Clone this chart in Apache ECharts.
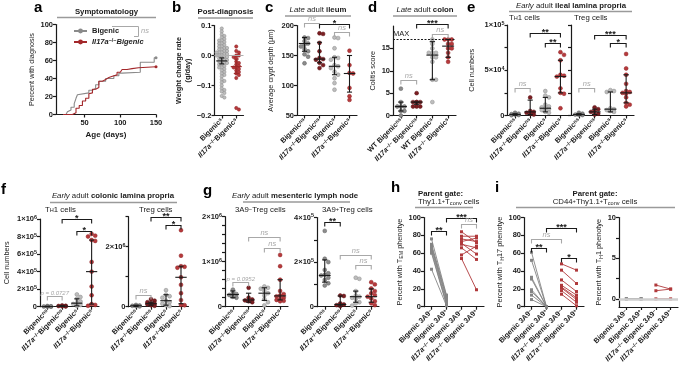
<!DOCTYPE html>
<html>
<head>
<meta charset="utf-8">
<title>Il17a and bigenic mice panels</title>
<script src="https://cdn.jsdelivr.net/npm/echarts@6/dist/echarts.min.js"></script>
<style>
  html, body { margin: 0; padding: 0; background: #fff; }
  #chart { width: 685px; height: 367px; }
</style>
</head>
<body>
<div id="chart"></div>
<script>
// ---- values ----

// a: percent with diagnosis, [age (days), percent] at each step
const aBigenic = [[20,0],[24,0],[26,3],[28.5,5],[31,8],[35.5,12],[38,18],[40,22],[42.5,24],[56,27],[61,29],[65.5,33],[70,37],[79.5,40],[91,43],[98,46],[102.5,47],[128,58],[147.5,63],[150,63]];
const aIl17a = [[20,0],[33,2],[38,7],[42.5,10],[47,15],[51.5,18],[56,23],[58.5,24],[61,28],[65.5,30],[70,37],[75,39],[79.5,41],[84,43],[91,44],[95.5,47],[100,49],[102.5,50],[109.5,51],[116.5,52],[125.5,53],[150,53]];
const aAgeTicks = [50, 100, 150];

// b: weight change rate (g/day)
const bCats = ['Bigenic^{s}', 'Il17a^{−/−}Bigenic^{s}'];
const bBigenic = [0.09,0.08,0.07,0.065,0.06,0.055,0.05,0.05,0.045,0.04,0.04,0.035,0.03,0.03,0.025,0.025,0.02,0.02,0.015,0.015,0.01,0.01,0.01,0.005,0.005,0,0,0,-0.005,-0.005,-0.01,-0.01,-0.015,-0.015,-0.02,-0.02,-0.025,-0.025,-0.03,-0.03,-0.035,-0.04,-0.04,-0.045,-0.05,-0.055,-0.06,-0.065,-0.07,-0.08,-0.085,-0.09,-0.1,-0.11,-0.115,-0.12,-0.125,-0.135,-0.14];
const bIl17a = [0.03,0.015,0.01,0,0,-0.005,-0.01,-0.02,-0.025,-0.03,-0.035,-0.04,-0.04,-0.045,-0.05,-0.055,-0.06,-0.065,-0.075,-0.175,-0.18];
const bMedian = [-0.018, -0.037];
const bLow = [-0.028, -0.06];
const bHigh = [-0.008, -0.012];

// shared category names
const cohortCats = ['Bigenic^{ns}', 'Il17a^{−/−}Bigenic^{ns}', 'Bigenic^{s}', 'Il17a^{−/−}Bigenic^{s}'];
const colitisCats = ['WT Bigenic^{ns}', 'Il17a^{−/−} Bigenic^{ns}', 'WT Bigenic^{s}', 'Il17a^{−/−} Bigenic^{s}'];
const gateCats = ['Bigenic 3A9^{−}', 'Bigenic 3A9^{+}', 'Il17a^{−/−} Bigenic 3A9^{−}', 'Il17a^{−/−} Bigenic 3A9^{+}'];

// c: average crypt depth (um)
const cDepth = [
  [180,179,174,170,168,165,161,157,152,148,137],
  [187,186,171,157,146,144,143,138,134,129],
  [180,179,162,147,146,143,134,132,129,123,118,112,104,93],
  [158,134,121,120,96,82,76]
];
const cMedian = [170, 144, 132, 120];
const cLow = [157, 138, 118, 89];
const cHigh = [180, 172, 147, 150];
const cSig = [[0,1,205,'ns'], [1,3,202,'*'], [2,3,190,'ns']];

// d: colitis score
const dScore = [
  [6,3,2,2,2,1,1,0],
  [5,3,3,3,3,2,2,2],
  [17,16,15,14,14,14,13,13,12,8,8,3],
  [17,17,17,16,16,15,15,14,13,12]
];
const dMedian = [2, 3, 13.5, 15.5];
const dLow = [1, 2.5, 8, 13];
const dHigh = [3, 3, 16.5, 17];
const dSig = [[0,1,8,'ns'], [1,3,20.5,'***'], [2,3,18.3,'ns']];
const dMax = 17;

// e: ileal lamina propria cell numbers
const eTh1 = [
  [3000,2000,1500,1000,500,300],
  [20000,5000,4000,3000,2000,1000],
  [27000,22000,20000,12000,10000,9000,8000,7000,6000,4000,3000],
  [70000,67000,61000,45000,44000,43000,30000,25000,24000,8000]
];
const eTh1Median = [1000, 4000, 8000, 43000];
const eTh1Low = [300, 1000, 4000, 25000];
const eTh1High = [2000, 17000, 20000, 61000];
const eTh1Sig = [[0,1,30000,'ns'], [1,3,91000,'**'], [2,3,80000,'**']];
const eTreg = [
  [3000,2000,1000,800,500],
  [9000,7000,5000,4000,2000,1000],
  [28000,27000,26000,8000,7000,6000,5000,4000],
  [68000,52000,45000,35000,27000,26000,25000,24000,20000,14000,12000,10000]
];
const eTregMedian = [1000, 4000, 7000, 25000];
const eTregLow = [500, 1000, 4000, 14000];
const eTregHigh = [2000, 7000, 26000, 45000];
const eTregSig = [[0,1,30000,'ns'], [1,3,89000,'***'], [2,3,80000,'*']];

// f: colonic lamina propria cell numbers
const fTh1 = [
  [8000,5000,2000,1000,0],
  [15000,10000,8000,5000,3000],
  [140000,110000,90000,60000,40000,30000,20000,10000],
  [830000,810000,800000,760000,750000,510000,400000,230000,130000,30000,20000,10000]
];
const fTh1Median = [1000, 6000, 40000, 400000];
const fTh1Low = [0, 3000, 10000, 30000];
const fTh1High = [5000, 10000, 90000, 760000];
const fTh1Sig = [[0,1,120000,'p = 0.0727'], [1,3,1000000,'*'], [2,3,860000,'*']];
const fTreg = [
  [60000,40000,30000,20000,10000],
  [250000,200000,150000,120000,100000,80000,50000,30000],
  [550000,400000,350000,300000,200000,150000,100000,50000,20000],
  [2550000,1700000,1350000,1330000,1300000,980000,730000,450000,220000,60000,50000]
];
const fTregMedian = [30000, 100000, 200000, 980000];
const fTregLow = [10000, 50000, 50000, 100000];
const fTregHigh = [50000, 150000, 400000, 1350000];
const fTregSig = [[0,1,400000,'ns'], [1,3,3000000,'**'], [2,3,2720000,'*']];

// g: mesenteric lymph node Treg numbers
const gNeg = [
  [380000,300000,280000,260000,220000,200000],
  [420000,200000,160000,140000,120000,100000],
  [450000,420000,400000,350000,300000,250000,170000,100000,30000],
  [1150000,900000,600000,350000,280000,250000,230000,200000,170000,150000,130000,120000]
];
const gNegMedian = [270000, 150000, 300000, 240000];
const gNegLow = [200000, 100000, 140000, 150000];
const gNegHigh = [350000, 300000, 420000, 600000];
const gNegSig = [[0,1,550000,'p = 0.0952'], [1,3,1540000,'ns'], [2,3,1310000,'ns']];
const gPos = [
  [340000,215000,200000,165000,150000,143000,140000,130000,120000,105000,95000],
  [50000,48000,15000,10000,7000,3000],
  [130000,125000,70000,50000,45000,40000,35000,20000,15000,5000],
  [110000,100000,82000,70000,60000,52000,45000,37000,25000,15000,7000]
];
const gPosMedian = [140000, 10000, 45000, 45000];
const gPosLow = [110000, 3000, 20000, 20000];
const gPosHigh = [210000, 48000, 70000, 80000];
const gPosSig = [[0,1,380000,'**'], [1,3,230000,'ns'], [2,3,187000,'ns']];

// h: percent with TEM phenotype, paired 3A9- / 3A9+
const hBigenicNeg = [76,70,68,67,65,62,60,42];
const hBigenicPos = [13,12,10,8,5,3,2,1];
const hIl17aNeg = [84,79,76,73,71,70,66,58,54];
const hIl17aPos = [72,79,73,77,59,66,53,68,19];
const hSig = [[0,1,85,'**'], [1,3,100,'***'], [2,3,93,'ns']];

// i: percent with TH17 / TH1 phenotype, paired
const iTh17BigenicNeg = [61,52,33,31,19,17,13,8];
const iTh17BigenicPos = [0,0,0,0,0,0,0,0];
const iTh17Il17aNeg = [48,41,30,24,22,21,18,14];
const iTh17Il17aPos = [41,26,17,13,10,8,5,1];
const iTh17Sig = [[0,1,66,'**'], [0,2,76,'ns'], [1,3,88,'***'], [2,3,55,'*']];
const iTh1BigenicNeg = [0,0,0];
const iTh1BigenicPos = [0,0,0];
const iTh1Il17aNeg = [1.7,1.0,0];
const iTh1Il17aPos = [1.2,1.2,0];

// ---- styling ----
const FONT = '"Liberation Sans", Arial, Helvetica, sans-serif';
const INK = '#1a1a1a';
const GREY_LINE = '#9a9a9a';
const TICK_FS = 7.5;   // y tick labels
const CAT_FS = 7.2;    // rotated category labels
const NAME_FS = 7.3;   // axis names
const DOT = {
  greyNs: ['#8c8c8c', '#5e5e5e'],
  greyS: ['#bdbdbd', '#8a8a8a'],
  redNs: ['#7b1e22', '#5a1215'],
  redS: ['#b73a3c', '#8f2426']
};
const cohortDots = [DOT.greyNs, DOT.redNs, DOT.greyS, DOT.redS];

function richSet(size, weight) {
  const small = Math.round(size * 0.72 * 10) / 10;
  return {
    i: {fontStyle: 'italic', fontWeight: weight, fontSize: size, fontFamily: FONT},
    b: {fontStyle: 'normal', fontWeight: 'bold', fontSize: size, fontFamily: FONT},
    it: {fontStyle: 'italic', fontWeight: 'normal', fontSize: size, fontFamily: FONT},
    sup: {fontWeight: weight, fontSize: small, fontFamily: FONT, lineHeight: 3, verticalAlign: 'top'},
    sub: {fontWeight: weight, fontSize: small, fontFamily: FONT, lineHeight: 3, verticalAlign: 'bottom'}
  };
}

// 'Il17a^{−/−}Bigenic^{ns}' -> rich text
function rt(s) {
  return String(s).replace(/Il17a/g, '{i|Il17a}')
    .replace(/\^\{([^}]*)\}/g, '{sup|$1}')
    .replace(/_\{([^}]*)\}/g, '{sub|$1}');
}

function sci(v) {
  if (Math.abs(v) < 1e-9) return '0';
  const e = Math.floor(Math.log10(v) + 1e-9);
  const m = Math.round(v / Math.pow(10, e));
  return m + '×10{sup|' + e + '}';
}

const option = {
  animation: false,
  textStyle: {fontFamily: FONT},
  grid: [], xAxis: [], yAxis: [], series: [], graphic: [],
  legend: {
    left: 68, top: 22, orient: 'vertical',
    itemWidth: 13, itemHeight: 6, itemGap: 3,
    selectedMode: false,
    data: ['Bigenic', 'Il17a−/−Bigenic'],
    formatter: n => n === 'Bigenic' ? 'Bigenic' : '{i|Il17a}{sup|−/−}{i|Bigenic}',
    textStyle: {fontSize: 7.5, fontWeight: 'bold', color: '#222', fontFamily: FONT, rich: richSet(7.5, 'bold')}
  }
};

function addGrid(l, t, w, h) {
  option.grid.push({left: l, top: t, width: w, height: h, containLabel: false, outerBoundsMode: 'none'});
  return option.grid.length - 1;
}

function addY(g, o) {
  const ax = {
    type: 'value', gridIndex: g, min: o.min, max: o.max,
    axisLine: {show: true, onZero: false, lineStyle: {color: INK, width: 1.2}},
    axisTick: {show: true, length: 3, lineStyle: {color: INK, width: 1.2}},
    splitLine: {show: false},
    axisLabel: {show: o.labels !== false, fontSize: TICK_FS, fontWeight: 'bold', color: INK, margin: 3,
      formatter: o.fmt, rich: richSet(TICK_FS, 'bold')},
    name: o.name || '', nameLocation: 'middle', nameGap: o.gap || 20,
    nameTextStyle: {fontSize: NAME_FS, color: '#222', fontWeight: o.nameBold ? 'bold' : 'normal',
      lineHeight: 9, rich: richSet(NAME_FS, o.nameBold ? 'bold' : 'normal')}
  };
  if (o.interval) ax.interval = o.interval;
  if (o.tickValues) ax.axisTick.customValues = o.tickValues;
  if (o.labelValues) ax.axisLabel.customValues = o.labelValues;
  option.yAxis.push(ax);
  return option.yAxis.length - 1;
}

// visible category axis for the labels + hidden value axis for placing marks
function addCatX(g, cats) {
  option.xAxis.push({
    type: 'category', gridIndex: g, data: cats,
    axisLine: {show: true, onZero: false, lineStyle: {color: INK, width: 1.2}},
    axisTick: {show: true, alignWithLabel: true, length: 3, lineStyle: {color: INK, width: 1.2}},
    axisLabel: {rotate: 45, interval: 0, fontSize: CAT_FS, fontWeight: 'bold', color: INK, margin: 4,
      formatter: rt, rich: richSet(CAT_FS, 'bold')},
    splitLine: {show: false}
  });
  option.xAxis.push({type: 'value', gridIndex: g, min: -0.5, max: cats.length - 0.5, show: false});
  return option.xAxis.length - 1;
}

// simple beeswarm: horizontal offsets (in category units), kept inside the band;
// when the band is full the least crowded slot is used
function swarm(py, dot, band, pack) {
  const gap = dot * pack, maxOff = band * 0.42;
  const placed = [], out = new Array(py.length).fill(0);
  const order = py.map((_, j) => j).sort((a, b) => py[b] - py[a]);
  order.forEach(j => {
    let best = 0, bestD = -1;
    for (let k = 0; k < 60; k++) {
      const dx = (k % 2 ? 1 : -1) * Math.ceil(k / 2) * gap;
      if (Math.abs(dx) > maxOff) break;
      const dmin = Math.min(Infinity, ...placed.map(q => Math.hypot(q[0] - dx, q[1] - py[j])));
      if (dmin >= gap) { best = dx; break; }
      if (dmin > bestD) { bestD = dmin; best = dx; }
    }
    placed.push([best, py[j]]);
    out[j] = best / band;
  });
  return out;
}

function errorBar(colors) {
  return function (params, api) {
    const k = api.value(0);
    const m = api.coord([k, api.value(1)]);
    const lo = api.coord([k, api.value(2)]);
    const hi = api.coord([k, api.value(3)]);
    const bw = api.size([1, 0])[0];
    const st = {stroke: colors ? colors[params.dataIndex] : INK, lineWidth: 1.1};
    return {type: 'group', children: [
      {type: 'line', shape: {x1: m[0] - bw * 0.38, y1: m[1], x2: m[0] + bw * 0.38, y2: m[1]}, style: st},
      {type: 'line', shape: {x1: lo[0], y1: lo[1], x2: hi[0], y2: hi[1]}, style: st},
      {type: 'line', shape: {x1: lo[0] - bw * 0.17, y1: lo[1], x2: lo[0] + bw * 0.17, y2: lo[1]}, style: st},
      {type: 'line', shape: {x1: hi[0] - bw * 0.17, y1: hi[1], x2: hi[0] + bw * 0.17, y2: hi[1]}, style: st}
    ]};
  };
}

function brackets(xi, yi, sig) {
  return {
    type: 'custom', xAxisIndex: xi, yAxisIndex: yi, clip: false, z: 6, silent: true,
    data: sig.map(s => [s[0], s[2], s[1]]),
    encode: {x: 0, y: 1},
    renderItem(params, api) {
      const s = sig[params.dataIndex];
      const a = api.coord([s[0], s[2]]), b = api.coord([s[1], s[2]]);
      const star = /^\*+$/.test(s[3]);
      const col = star ? INK : '#a8a8a8';
      const y = Math.round(a[1]) + 0.5;
      return {type: 'group', children: [
        {type: 'polyline', shape: {points: [[a[0], y + 4], [a[0], y], [b[0], y], [b[0], y + 4]]},
          style: {stroke: col, lineWidth: 1.1, fill: 'none'}},
        {type: 'text', x: (a[0] + b[0]) / 2, y: star ? y + 3.5 : y - 0.5,
          style: {text: s[3], fill: col, align: 'center', verticalAlign: 'bottom', fontFamily: FONT,
            fontSize: star ? 9 : (s[3].length > 3 ? 6 : 7.5),
            fontWeight: star ? 'bold' : 'normal', fontStyle: star ? 'normal' : 'italic'}}
      ]};
    }
  };
}

function catPanel(p) {
  const [l, t, w, h] = p.rect;
  const g = addGrid(l, t, w, h);
  const xi = addCatX(g, p.cats);
  const yi = addY(g, p.y);
  const band = w / p.cats.length;
  const span = p.y.max - p.y.min;
  const dot = p.dot || 3.9;
  p.values.forEach((vals, k) => {
    const offs = swarm(vals.map(v => (v - p.y.min) / span * h), dot, band, p.pack || 0.92);
    const s = {
      type: 'scatter', xAxisIndex: xi, yAxisIndex: yi, silent: true, z: 3,
      data: vals.map((v, j) => [k + offs[j], v]),
      symbolSize: dot,
      itemStyle: {color: p.dots[k][0], borderColor: p.dots[k][1], borderWidth: 0.5, opacity: 1}
    };
    if (k === 0 && p.refLine) s.markLine = p.refLine;
    option.series.push(s);
  });
  option.series.push({
    type: 'custom', xAxisIndex: xi, yAxisIndex: yi, clip: false, z: 5, silent: true,
    data: p.median.map((m, k) => [k, m, p.low[k], p.high[k]]),
    encode: {x: 0, y: 1},
    renderItem: errorBar(p.barColors)
  });
  if (p.sig) option.series.push(brackets(xi, yi, p.sig));
}

function pairs(xi, yi, neg, pos, xa, xb, col) {
  return {
    type: 'custom', xAxisIndex: xi, yAxisIndex: yi, clip: false, z: 4, silent: true,
    data: neg.map((v, k) => [xa, v, xb, pos[k]]),
    encode: {x: [0, 2], y: [1, 3]},
    renderItem(params, api) {
      const a = api.coord([api.value(0), api.value(1)]);
      const b = api.coord([api.value(2), api.value(3)]);
      const r = 1.5;
      return {type: 'group', children: [
        {type: 'line', shape: {x1: a[0], y1: a[1], x2: b[0], y2: b[1]}, style: {stroke: col, lineWidth: 0.9}},
        {type: 'rect', shape: {x: a[0] - r, y: a[1] - r, width: 2 * r, height: 2 * r}, style: {fill: col}},
        {type: 'rect', shape: {x: b[0] - r, y: b[1] - r, width: 2 * r, height: 2 * r}, style: {fill: col}}
      ]};
    }
  };
}

function pairPanel(p) {
  const [l, t, w, h] = p.rect;
  const g = addGrid(l, t, w, h);
  const xi = addCatX(g, gateCats);
  const yi = addY(g, p.y);
  const grey = pairs(xi, yi, p.greyNeg, p.greyPos, 0, 1, '#858585');
  if (p.refLine) grey.markLine = p.refLine;
  option.series.push(grey);
  option.series.push(pairs(xi, yi, p.redNeg, p.redPos, 2, 3, '#b0393b'));
  if (p.sig) option.series.push(brackets(xi, yi, p.sig));
}

// ---- a: symptomatology ----
const ga = addGrid(56, 24.5, 100, 90);
option.xAxis.push({
  type: 'value', gridIndex: ga, min: 10, max: 150,
  axisLine: {show: true, onZero: false, lineStyle: {color: INK, width: 1.2}},
  axisTick: {show: true, length: 3, customValues: aAgeTicks, lineStyle: {color: INK, width: 1.2}},
  axisLabel: {fontSize: TICK_FS, fontWeight: 'bold', color: INK, margin: 4, customValues: aAgeTicks},
  splitLine: {show: false},
  name: 'Age (days)', nameLocation: 'middle', nameGap: 16,
  nameTextStyle: {fontSize: 8, fontWeight: 'bold', color: INK}
});
const xA = option.xAxis.length - 1;
const yA = addY(ga, {min: 0, max: 100, interval: 20, name: 'Percent with diagnosis', gap: 17});
[['Bigenic', aBigenic, '#8a8a8a'], ['Il17a−/−Bigenic', aIl17a, '#a3282b']].forEach(([name, d, col]) => {
  option.series.push({
    type: 'line', name, xAxisIndex: xA, yAxisIndex: yA, data: d, step: 'end', silent: true,
    symbol: 'circle', symbolSize: (v, prm) => prm.dataIndex === d.length - 1 ? 3 : 0,
    lineStyle: {color: col, width: 1.1}, itemStyle: {color: col}
  });
});

// ---- b: post-diagnosis ----
catPanel({
  rect: [214.5, 25.5, 29, 90], cats: bCats, values: [bBigenic, bIl17a],
  median: bMedian, low: bLow, high: bHigh, barColors: [INK, '#9e2a2a'],
  dots: [DOT.greyS, DOT.redS], dot: 3.3, pack: 0.8,
  y: {min: -0.2, max: 0.1, interval: 0.1, name: 'Weight change rate\n(g/day)', gap: 19, nameBold: true,
    fmt: v => Math.abs(v) < 1e-9 ? '0.0' : (v < 0 ? '−' + Math.abs(v).toFixed(1) : v.toFixed(1))},
  refLine: {silent: true, symbol: 'none', data: [{yAxis: 0}], label: {show: false},
    lineStyle: {color: '#b0b0b0', width: 1, type: 'solid'}}
});

// ---- c: late adult ileum ----
catPanel({
  rect: [297, 25.5, 60, 90], cats: cohortCats, values: cDepth,
  median: cMedian, low: cLow, high: cHigh, dots: cohortDots, sig: cSig,
  y: {min: 50, max: 200, interval: 50, name: 'Average crypt depth (μm)', gap: 22}
});

// ---- d: late adult colon ----
catPanel({
  rect: [393, 26, 63, 89.5], cats: colitisCats, values: dScore,
  median: dMedian, low: dLow, high: dHigh, dots: cohortDots, sig: dSig,
  y: {min: 0, max: 20, tickValues: [0, 5, 10, 15], labelValues: [0, 5, 10, 15], name: 'Colitis score', gap: 15},
  refLine: {silent: true, symbol: 'none', data: [{yAxis: dMax}],
    lineStyle: {color: INK, width: 1, type: [2, 1.5]},
    label: {show: true, position: 'insideStartTop', formatter: 'MAX', fontSize: 7.5, color: INK, distance: [0, 1]}}
});

// ---- e: early adult ileal lamina propria ----
const eFmt = v => (Math.abs(v) < 1 || Math.abs(v - 50000) < 1 || Math.abs(v - 100000) < 1) ? sci(v) : '';
catPanel({
  rect: [507.5, 25, 60.5, 90.5], cats: cohortCats, values: eTh1,
  median: eTh1Median, low: eTh1Low, high: eTh1High, dots: cohortDots, sig: eTh1Sig,
  y: {min: 0, max: 100000, interval: 25000, fmt: eFmt, name: 'Cell numbers', gap: 31}
});
catPanel({
  rect: [571, 25, 63, 90.5], cats: cohortCats, values: eTreg,
  median: eTregMedian, low: eTregLow, high: eTregHigh, dots: cohortDots, sig: eTregSig,
  y: {min: 0, max: 100000, interval: 25000, labels: false}
});

// ---- f: early adult colonic lamina propria ----
catPanel({
  rect: [40, 219, 59, 87.7], cats: cohortCats, values: fTh1,
  median: fTh1Median, low: fTh1Low, high: fTh1High, dots: cohortDots, sig: fTh1Sig,
  y: {min: 0, max: 1000000, interval: 200000, fmt: sci, name: 'Cell numbers', gap: 29}
});
catPanel({
  rect: [128.5, 216.7, 60, 90], cats: cohortCats, values: fTreg,
  median: fTregMedian, low: fTregLow, high: fTregHigh, dots: cohortDots, sig: fTregSig,
  y: {min: 0, max: 3000000, interval: 1000000,
    fmt: v => (Math.abs(v) < 1 || Math.abs(v - 2000000) < 1) ? sci(v) : ''}
});

// ---- g: early adult mesenteric lymph node ----
catPanel({
  rect: [225, 216.7, 63, 90], cats: cohortCats, values: gNeg,
  median: gNegMedian, low: gNegLow, high: gNegHigh, dots: cohortDots, sig: gNegSig,
  y: {min: 0, max: 2000000, interval: 200000,
    fmt: v => Math.abs(v / 1e6 - Math.round(v / 1e6)) < 1e-6 ? sci(Math.round(v / 1e6) * 1e6) : ''}
});
catPanel({
  rect: [317, 217.5, 62, 89.2], cats: cohortCats, values: gPos,
  median: gPosMedian, low: gPosLow, high: gPosHigh, dots: cohortDots, sig: gPosSig,
  y: {min: 0, max: 400000, interval: 100000,
    fmt: v => Math.abs(v / 2e5 - Math.round(v / 2e5)) < 1e-6 ? sci(Math.round(v / 2e5) * 2e5) : ''}
});

// ---- h: TEM phenotype ----
pairPanel({
  rect: [424, 217.5, 60, 89.2],
  greyNeg: hBigenicNeg, greyPos: hBigenicPos, redNeg: hIl17aNeg, redPos: hIl17aPos, sig: hSig,
  y: {min: 0, max: 100, interval: 20, name: 'Percent with T{sub|EM} phenotye', gap: 20}
});

// ---- i: TH17 / TH1 phenotype ----
pairPanel({
  rect: [524, 217.5, 60, 89.2],
  greyNeg: iTh17BigenicNeg, greyPos: iTh17BigenicPos, redNeg: iTh17Il17aNeg, redPos: iTh17Il17aPos, sig: iTh17Sig,
  y: {min: 0, max: 100, interval: 20, name: 'Percent with T{sub|H}17 phenotye', gap: 19}
});
pairPanel({
  rect: [619, 217.5, 59, 89.5],
  greyNeg: iTh1BigenicNeg, greyPos: iTh1BigenicPos, redNeg: iTh1Il17aNeg, redPos: iTh1Il17aPos,
  y: {min: -1, max: 10, tickValues: [0, 2.5, 5, 7.5, 10], labelValues: [0, 5, 10],
    name: 'Percent with T{sub|H}1 phenotye', gap: 15},
  refLine: {silent: true, symbol: 'none', data: [{yAxis: 0}], label: {show: false},
    lineStyle: {color: '#cfcfcf', width: 2.5, type: 'solid'}}
});

// ---- panel letters, titles, rules ----
const TITLE_RICH = richSet(7.8, 'normal');
function gText(x, y, text, extra) {
  option.graphic.push({type: 'text', x, y, silent: true, z: 10,
    style: Object.assign({text, fill: INK, fontFamily: FONT, fontSize: 7.8, fontWeight: 'normal',
      align: 'left', verticalAlign: 'middle', rich: TITLE_RICH}, extra || {})});
}
function gRule(x1, x2, y) {
  option.graphic.push({type: 'line', silent: true, z: 10,
    shape: {x1, y1: y, x2, y2: y}, style: {stroke: GREY_LINE, lineWidth: 1.3}});
}

[['a', 34, 0], ['b', 172, 0], ['c', 265, 0], ['d', 368, 0], ['e', 467, 0],
 ['f', 1, 182], ['g', 203, 183], ['h', 391, 180], ['i', 495, 180]].forEach(([t, x, y]) => {
  gText(x, y, t, {fontSize: 15, fontWeight: 'bold', verticalAlign: 'top', fill: '#000'});
});

gText(106.5, 11.5, 'Symptomatology', {fontWeight: 'bold', align: 'center'});
gRule(57, 156, 17.5);
gText(225.5, 11.5, 'Post-diagnosis', {fontWeight: 'bold', align: 'center'});
gRule(198, 253, 18);
gText(318, 10, '{it|Late} adult {b|ileum}', {align: 'center'});
gRule(285, 351, 16);
gText(425, 10, '{it|Late} adult {b|colon}', {align: 'center'});
gRule(393, 457, 16);
gText(571, 5.5, '{it|Early} adult {b|ileal lamina propria}', {align: 'center'});
gRule(509, 632, 11.5);
gText(509, 17.5, 'T{sub|H}1 cells');
gText(574, 17.5, 'Treg cells');

// legend bracket for panel a
option.graphic.push({type: 'polyline', silent: true, z: 10,
  shape: {points: [[112, 26.5], [138.5, 26.5], [138.5, 36.5], [134, 36.5]]},
  style: {stroke: '#a8a8a8', lineWidth: 1, fill: 'none'}});
gText(141, 31, 'ns', {fontStyle: 'italic', fill: '#a8a8a8', fontSize: 7.5});

gText(113, 196, '{it|Early} adult {b|colonic lamina propria}', {align: 'center'});
gRule(50, 177, 202.5);
gText(45, 209.5, 'T{sub|H}1 cells');
gText(139, 209.5, 'Treg cells');
gText(295, 196, '{it|Early} adult {b|mesenteric lymph node}', {align: 'center'});
gRule(243, 350, 202);
gText(235, 210, '3A9{sup|−}Treg cells');
gText(322, 210, '3A9{sup|+}Treg cells');
gText(418, 194, 'Parent gate:', {fontWeight: 'bold'});
gText(418, 202, 'Thy1.1{sup|+}T{sub|conv} cells');
gRule(415, 473, 207.5);
gText(595, 194, 'Parent gate:', {fontWeight: 'bold', align: 'center'});
gText(595, 202, 'CD44{sup|+}Thy1.1{sup|+}T{sub|conv} cells', {align: 'center'});
gRule(516, 675, 207.5);

const chart = echarts.init(document.getElementById('chart'));
chart.setOption(option);
</script>
</body>
</html>
